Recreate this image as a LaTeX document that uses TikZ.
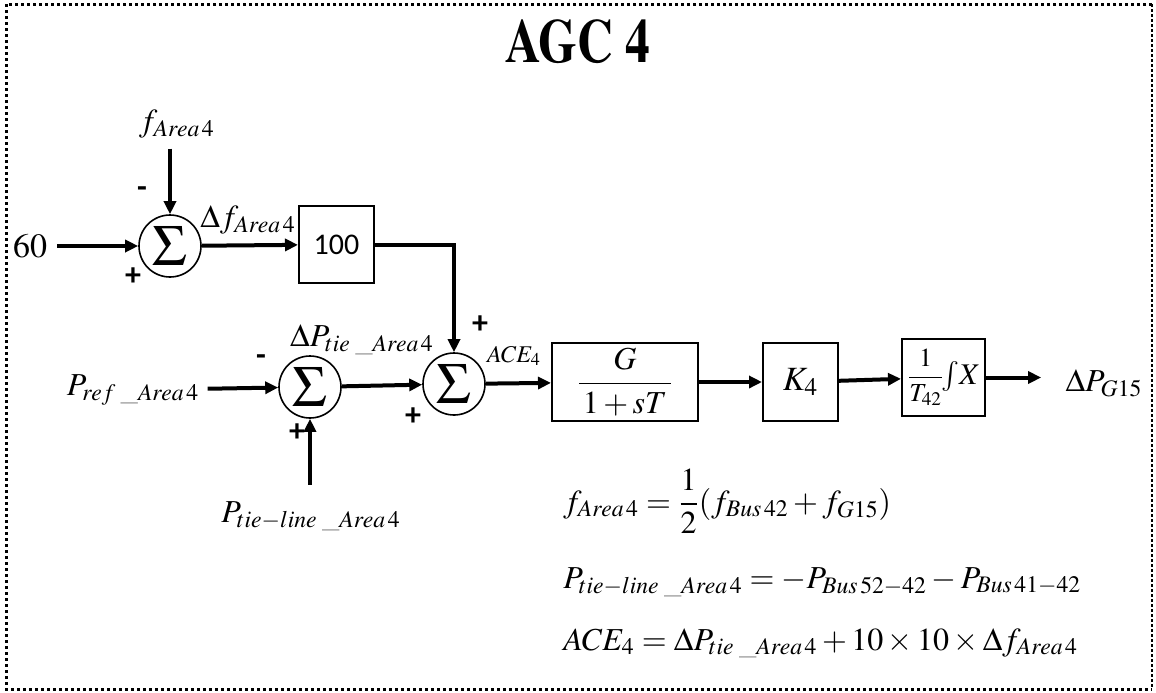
\documentclass[tikz,border=0pt]{standalone}
\usepackage{amsmath}
\usepackage{mathptmx}
\usepackage[T1]{fontenc}
\usepackage[no-math]{fontspec}
\newfontfamily\calib{Carlito}
\usetikzlibrary{positioning, arrows.meta}

\newcommand{\tmsfont}{\fontencoding{T1}\fontfamily{ptm}\selectfont}
\newcommand{\sumglyph}{\fontsize{29}{29}\selectfont$\Sigma$}

\begin{document}
\begin{tikzpicture}[x=0.5pt, y=-0.5pt,
  sumnode/.style={circle, draw, line width=0.8pt, minimum size=31pt, inner sep=0pt},
  blk/.style={rectangle, draw, line width=1pt, inner sep=0pt},
  lbl/.style={inner sep=2pt, font=\fontsize{16}{18}\selectfont},
  sgn/.style={inner sep=0pt, font=\calib\bfseries\fontsize{16}{16}\selectfont},
  sig/.style={-{Triangle[length=6.5pt,width=6pt]}, line width=2pt},
  eqn/.style={anchor=base west, inner sep=0pt, font=\fontsize{16}{18}\selectfont}
]
\useasboundingbox (0,0) rectangle (1156,692);

% Frame
\draw[line width=1.5pt, dash pattern=on 1.5pt off 1.5pt] (1152,4) -- (6,4) -- (6,689) -- (1152,689);
\draw[line width=0.6pt, dash pattern=on 1.5pt off 1pt] (1152,4) -- (1152,689);

% Title
\node[font=\tmsfont\bfseries\fontsize{31}{31}\selectfont] (title) at (578,42) {\scalebox{0.8}[1]{AGC 4}};

% Summing junctions
\node[sumnode] (sumA) at (170,246) {\sumglyph};
\node[sumnode] (sumB) at (310,387) {\sumglyph};
\node[sumnode] (sumC) at (454,384) {\sumglyph};

% Blocks
\node[blk, minimum width=37.5pt, minimum height=38.5pt, font=\calib\fontsize{15}{15}\selectfont] (hundred) at (336.5,244.5) {100};
\node[blk, minimum width=73pt, minimum height=39pt, font=\fontsize{16}{18}\selectfont] (plant) at (625,382) {$\dfrac{G}{\,1+sT\,}$};
\node[blk, minimum width=37.5pt, minimum height=39pt, font=\fontsize{17}{19}\selectfont] (gain) at (800.5,382) {$K_4$};
\node[blk, minimum width=41.5pt, minimum height=38.5pt, font=\fontsize{13}{15}\selectfont] (intg) at (943.5,377.5) {$\dfrac{1}{T_{42}}$\fontsize{15}{17}\selectfont$\!\int\! X$};

% Signal labels
\node[lbl, font=\tmsfont\fontsize{17}{19}\selectfont] (sixty) at (30,246) {60};
\node[lbl] (fA) at (177,124) {$f_{Area\,4}$};
\node[lbl] (dfA) at (248,220) {$\Delta f_{Area\,4}$};
\node[lbl] (Pref) at (133,390) {$P_{ref\;\_Area\,4}$};
\node[lbl] (dPt) at (362,340) {$\Delta P_{tie\;\_Area\,4}$};
\node[lbl] (Ptl) at (311,516) {$P_{tie-line\;\_Area\,4}$};
\node[lbl, font=\fontsize{12}{14}\selectfont] (ace) at (514,356) {$ACE_4$};
\node[lbl, font=\fontsize{16}{18}\selectfont] (dPG) at (1104,383) {$\Delta P_{G15}$};

% Signs
\node[sgn] (mA) at (142,192) {-};
\node[sgn] (pA) at (133,277) {+};
\node[sgn] (mB) at (261,360) {-};
\node[sgn] (pB) at (297,433) {+};
\node[sgn] (pC1) at (413,417) {+};
\node[sgn] (pC2) at (480,325) {+};

% Connections
\draw[sig, shorten <=3pt] (sixty) -- (sumA);
\draw[sig, shorten <=3pt] (fA.south -| sumA) -- (sumA);
\draw[sig] (sumA) -- (hundred);
\draw[sig] (hundred.east) -| (sumC.north);
\draw[sig, shorten <=2pt] (Pref) -- (sumB);
\draw[sig, shorten <=6pt] (Ptl.north -| sumB) -- (sumB);
\draw[sig] (sumB) -- (sumC);
\draw[sig] (sumC) -- (plant);
\draw[sig] (plant) -- (gain);
\draw[sig] (gain) -- (intg);
\draw[sig, shorten >=10pt] (intg.east) -- (intg.east -| dPG.west);

% Equations
\node[eqn] (eqf) at (563,512) {$f_{Area\,4}=\dfrac{1}{2}(f_{Bus\,42}+f_{G15})$};
\node[eqn] (eqp) at (563,588) {$P_{tie-line\;\_Area\,4}=-P_{Bus\,52-42}-P_{Bus\,41-42}$};
\node[eqn] (eqa) at (563,650) {$ACE_4=\Delta P_{tie\;\_Area\,4}+10\times10\times\Delta f_{Area\,4}$};

\end{tikzpicture}
\end{document}
